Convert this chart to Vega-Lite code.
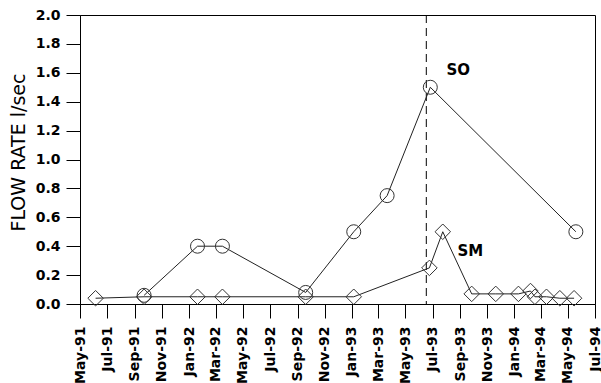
{
  "$schema": "https://vega.github.io/schema/vega-lite/v6.json",
  "autosize": {"type": "none"},
  "width": 515,
  "height": 289,
  "padding": {"left": 80, "top": 15, "right": 6, "bottom": 79},
  "background": "white",
  "config": {
    "view": {"stroke": "#000", "strokeWidth": 1},
    "axis": {
      "domainColor": "#000",
      "tickColor": "#000",
      "labelColor": "#000",
      "titleColor": "#000",
      "labelFont": "DejaVu Sans",
      "labelFontWeight": "bold",
      "labelFontSize": 14,
      "titleFont": "DejaVu Sans",
      "tickSize": 14,
      "grid": false,
      "labelOverlap": false
    },
    "axisLeft": {
      "title": "FLOW RATE l/sec",
      "titleFontSize": 19,
      "titleFontWeight": "normal",
      "titleAngle": 270,
      "titleAlign": "center",
      "titleBaseline": "alphabetic",
      "titleX": -56,
      "titleY": 137,
      "format": ".1f",
      "labelPadding": 6,
      "tickCount": 11
    }
  },
  "datasets": {
    "flow": [
      {"series": "SO", "date": "1991-09-22", "flow": 0.06},
      {"series": "SO", "date": "1992-01-20", "flow": 0.40},
      {"series": "SO", "date": "1992-03-16", "flow": 0.40},
      {"series": "SO", "date": "1992-09-19", "flow": 0.08},
      {"series": "SO", "date": "1993-01-05", "flow": 0.50},
      {"series": "SO", "date": "1993-03-21", "flow": 0.75},
      {"series": "SO", "date": "1993-06-26", "flow": 1.50},
      {"series": "SO", "date": "1994-05-19", "flow": 0.50},
      {"series": "SM", "date": "1991-06-05", "flow": 0.04},
      {"series": "SM", "date": "1991-09-22", "flow": 0.05},
      {"series": "SM", "date": "1992-01-20", "flow": 0.05},
      {"series": "SM", "date": "1992-03-16", "flow": 0.05},
      {"series": "SM", "date": "1992-09-19", "flow": 0.05},
      {"series": "SM", "date": "1993-01-05", "flow": 0.05},
      {"series": "SM", "date": "1993-06-24", "flow": 0.25},
      {"series": "SM", "date": "1993-07-24", "flow": 0.50},
      {"series": "SM", "date": "1993-09-27", "flow": 0.07},
      {"series": "SM", "date": "1993-11-20", "flow": 0.07},
      {"series": "SM", "date": "1994-01-10", "flow": 0.07},
      {"series": "SM", "date": "1994-02-06", "flow": 0.09},
      {"series": "SM", "date": "1994-02-16", "flow": 0.05},
      {"series": "SM", "date": "1994-03-14", "flow": 0.05},
      {"series": "SM", "date": "1994-04-13", "flow": 0.04},
      {"series": "SM", "date": "1994-05-15", "flow": 0.04}
    ],
    "marker": [{"date": "1993-06-17"}],
    "labels": [
      {"label": "SO", "date": "1993-08-28", "flow": 1.62},
      {"label": "SM", "date": "1993-09-24", "flow": 0.37}
    ]
  },
  "encoding": {
    "x": {
      "field": "date",
      "type": "temporal",
      "scale": {
        "type": "utc",
        "domain": [
          {"year": 1991, "month": 5, "date": 1, "utc": true},
          {"year": 1994, "month": 7, "date": 1, "utc": true}
        ]
      },
      "axis": {
        "title": null,
        "format": "%b-%y",
        "labelAngle": 270,
        "labelAlign": "right",
        "labelBaseline": "middle",
        "labelPadding": 8,
        "values": [
          {"year": 1991, "month": 5, "date": 1, "utc": true},
          {"year": 1991, "month": 7, "date": 1, "utc": true},
          {"year": 1991, "month": 9, "date": 1, "utc": true},
          {"year": 1991, "month": 11, "date": 1, "utc": true},
          {"year": 1992, "month": 1, "date": 1, "utc": true},
          {"year": 1992, "month": 3, "date": 1, "utc": true},
          {"year": 1992, "month": 5, "date": 1, "utc": true},
          {"year": 1992, "month": 7, "date": 1, "utc": true},
          {"year": 1992, "month": 9, "date": 1, "utc": true},
          {"year": 1992, "month": 11, "date": 1, "utc": true},
          {"year": 1993, "month": 1, "date": 1, "utc": true},
          {"year": 1993, "month": 3, "date": 1, "utc": true},
          {"year": 1993, "month": 5, "date": 1, "utc": true},
          {"year": 1993, "month": 7, "date": 1, "utc": true},
          {"year": 1993, "month": 9, "date": 1, "utc": true},
          {"year": 1993, "month": 11, "date": 1, "utc": true},
          {"year": 1994, "month": 1, "date": 1, "utc": true},
          {"year": 1994, "month": 3, "date": 1, "utc": true},
          {"year": 1994, "month": 5, "date": 1, "utc": true},
          {"year": 1994, "month": 7, "date": 1, "utc": true}
        ]
      }
    }
  },
  "layer": [
    {
      "data": {"name": "marker"},
      "mark": {"type": "rule", "stroke": "#000", "strokeWidth": 1, "strokeDash": [8, 5]},
      "encoding": {}
    },
    {
      "data": {"name": "flow"},
      "mark": {"type": "line", "stroke": "#222", "strokeWidth": 1},
      "encoding": {
        "y": {
          "field": "flow",
          "type": "quantitative",
          "scale": {"domain": [0, 2], "nice": false, "zero": true},
          "axis": {"title": "FLOW RATE l/sec", "values": [0, 0.2, 0.4, 0.6, 0.8, 1.0, 1.2, 1.4, 1.6, 1.8, 2.0]}
        },
        "detail": {"field": "series", "type": "nominal"}
      }
    },
    {
      "data": {"name": "flow"},
      "mark": {"type": "point", "filled": false, "stroke": "#333", "strokeWidth": 1, "opacity": 1},
      "encoding": {
        "y": {
          "field": "flow",
          "type": "quantitative",
          "axis": {"title": "FLOW RATE l/sec", "values": [0, 0.2, 0.4, 0.6, 0.8, 1.0, 1.2, 1.4, 1.6, 1.8, 2.0]}
        },
        "shape": {
          "field": "series",
          "type": "nominal",
          "scale": {"domain": ["SO", "SM"], "range": ["circle", "diamond"]},
          "legend": null
        },
        "size": {
          "field": "series",
          "type": "nominal",
          "scale": {"domain": ["SO", "SM"], "range": [196, 240]},
          "legend": null
        }
      }
    },
    {
      "data": {"name": "labels"},
      "mark": {"type": "text", "font": "DejaVu Sans", "fontWeight": "bold", "fontSize": 15, "align": "center", "baseline": "middle", "color": "#000"},
      "encoding": {
        "y": {
          "field": "flow",
          "type": "quantitative",
          "axis": {"title": "FLOW RATE l/sec", "values": [0, 0.2, 0.4, 0.6, 0.8, 1.0, 1.2, 1.4, 1.6, 1.8, 2.0]}
        },
        "text": {"field": "label", "type": "nominal"}
      }
    }
  ]
}
